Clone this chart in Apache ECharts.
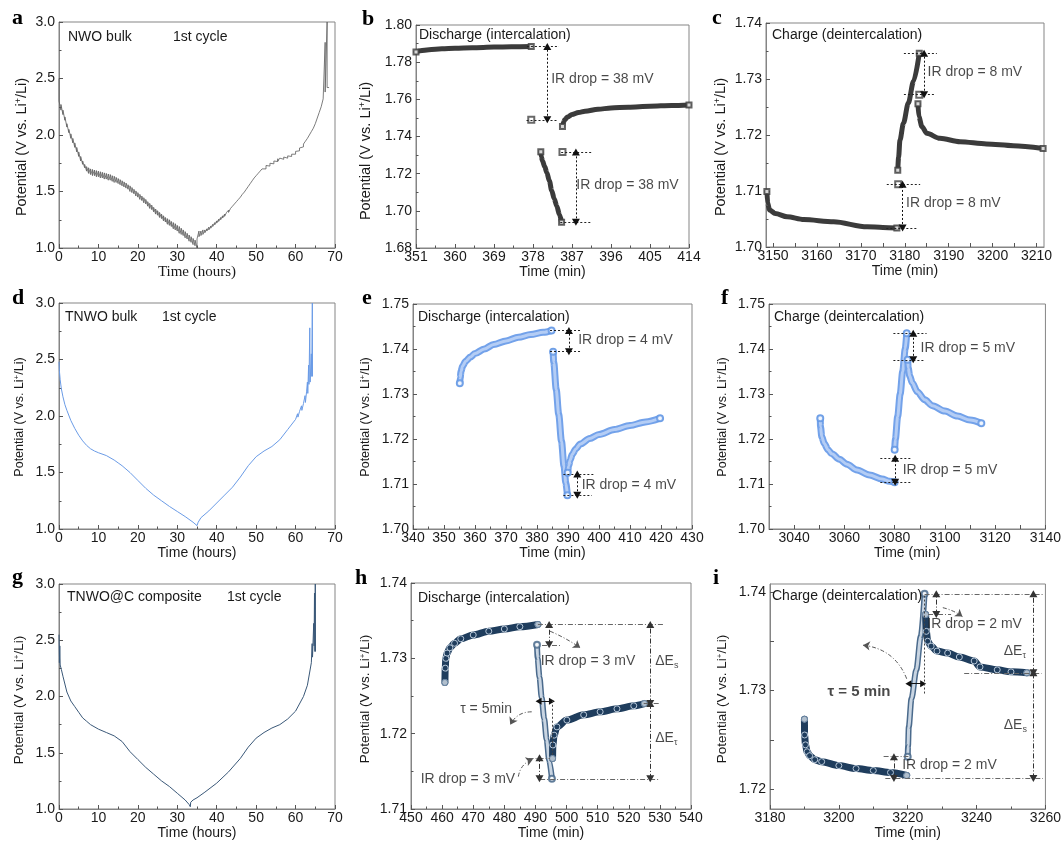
<!DOCTYPE html>
<html>
<head>
<meta charset="utf-8">
<script src="https://cdn.jsdelivr.net/npm/echarts@6/dist/echarts.min.js"></script>
<style>
html,body{margin:0;padding:0;background:#fff}
#chart{width:1064px;height:845px}
</style>
</head>
<body>
<div id="chart"></div>
<script>
// ---------- a: NWO bulk, 1st cycle (hours) : [time, relaxed potential, pulse-end potential] ----------
const aDischarge = [[0,2.50,2.30],[0.5,2.31,2.22],[1,2.27,2.18],[1.5,2.22,2.13],[2,2.16,2.07],[2.5,2.10,2.02],[3,2.05,1.97],[3.5,2.01,1.93],[4,1.97,1.89],[4.5,1.93,1.85],[5,1.89,1.81],[5.5,1.85,1.77],[6,1.81,1.74],[6.5,1.77,1.71],[7,1.74,1.68],[7.5,1.72,1.66],[8,1.71,1.65],[8.5,1.70,1.64],[9,1.695,1.64],[9.5,1.69,1.63],[10,1.685,1.63],[10.5,1.68,1.62],[11,1.675,1.62],[11.5,1.67,1.61],[12,1.665,1.61],[12.5,1.66,1.60],[13,1.655,1.60],[13.5,1.65,1.59],[14,1.64,1.58],[14.5,1.635,1.58],[15,1.625,1.57],[15.5,1.615,1.56],[16,1.605,1.55],[16.5,1.595,1.54],[17,1.585,1.53],[17.5,1.575,1.52],[18,1.56,1.50],[18.5,1.55,1.49],[19,1.535,1.48],[19.5,1.52,1.46],[20,1.505,1.45],[20.5,1.49,1.43],[21,1.475,1.42],[21.5,1.46,1.40],[22,1.445,1.39],[22.5,1.43,1.37],[23,1.41,1.35],[23.5,1.395,1.34],[24,1.38,1.32],[24.5,1.36,1.30],[25,1.345,1.29],[25.5,1.33,1.27],[26,1.315,1.26],[26.5,1.30,1.24],[27,1.285,1.23],[27.5,1.27,1.21],[28,1.26,1.20],[28.5,1.25,1.19],[29,1.235,1.17],[29.5,1.225,1.16],[30,1.215,1.15],[30.5,1.20,1.13],[31,1.19,1.12],[31.5,1.175,1.11],[32,1.16,1.09],[32.5,1.145,1.08],[33,1.13,1.06],[33.5,1.115,1.05],[34,1.10,1.03],[34.5,1.085,1.02],[35,1.07,1.00]];
const aCharge = [[35.5,1.08,1.15],[36,1.10,1.15],[36.5,1.11,1.16],[37,1.12,1.16],[37.5,1.135,1.17],[38,1.15,1.185],[38.5,1.16,1.195],[39,1.175,1.21],[39.5,1.19,1.225],[40,1.205,1.24],[40.5,1.22,1.255],[41,1.235,1.27],[41.5,1.25,1.285],[42,1.265,1.30],[42.5,1.28,1.315],[43,1.30,1.335],[43.5,1.315,1.35],[44,1.335,1.37],[44.5,1.355,1.39],[45,1.375,1.41],[45.5,1.395,1.43],[46,1.415,1.45],[46.5,1.44,1.475],[47,1.46,1.495],[47.5,1.485,1.52],[48,1.51,1.545],[48.5,1.535,1.57],[49,1.56,1.595],[49.5,1.585,1.62],[50,1.605,1.64],[50.5,1.63,1.66],[51,1.65,1.68],[51.5,1.67,1.70],[52,1.685,1.715],[52.5,1.70,1.73],[53,1.715,1.74],[53.5,1.725,1.75],[54,1.735,1.76],[54.5,1.745,1.77],[55,1.755,1.78],[55.5,1.765,1.79],[56,1.77,1.795],[56.5,1.78,1.80],[57,1.785,1.805],[57.5,1.79,1.81],[58,1.795,1.815],[58.5,1.80,1.82],[59,1.81,1.83],[59.5,1.82,1.84],[60,1.83,1.855],[60.5,1.845,1.87],[61,1.86,1.885],[61.5,1.875,1.90],[62,1.895,1.92],[62.5,1.915,1.945],[63,1.94,1.97],[63.5,1.965,2.00],[64,1.99,2.03],[64.5,2.02,2.06],[65,2.06,2.10],[65.5,2.10,2.15],[66,2.15,2.20],[66.5,2.20,2.25],[67,2.26,2.32],[67.5,2.32,2.82],[68,2.38,3.00],[68.5,2.42,2.42]];

// ---------- b: NWO bulk, discharge step (min) ----------
const bRest1 = [[351,1.7855],[352,1.7862],[354,1.7867],[357,1.7872],[360,1.7875],[364,1.7878],[369,1.7881],[373,1.7883],[377.6,1.7884]];
const bPulse = [[379.8,1.7318],[379.9,1.7292],[380.2,1.7268],[380.7,1.7238],[381.2,1.7205],[381.8,1.7160],[382.3,1.7110],[382.9,1.7065],[383.5,1.7025],[384.1,1.6980],[384.6,1.6938]];
const bRest2 = [[384.8,1.7454],[385.0,1.7475],[385.3,1.7490],[386,1.7505],[387,1.7518],[388.5,1.7529],[390,1.7536],[393,1.7547],[396,1.7553],[400,1.7558],[405,1.7563],[410,1.7567],[414,1.7570]];
const bSteps = [[377.6,1.7490],[384.8,1.7316]];
const bGuides = [[1.7884,376.6,384.0],[1.7490,376.5,383.5],[1.7316,384.5,391.6],[1.6938,384.3,391.6]];
const bArrows = [[381.3,1.7490,1.7884],[387.9,1.6938,1.7316]];
const bNotes = [[382.2,1.7710,'IR drop = 38 mV'],[388.0,1.7140,'IR drop = 38 mV']];

// ---------- c: NWO bulk, charge step (min) ----------
const cRest1 = [[3148.6,1.7099],[3148.8,1.7078],[3149.2,1.7066],[3150.5,1.7060],[3153.2,1.7054],[3157,1.7049],[3163.8,1.7045],[3171.4,1.7036],[3175,1.7035],[3178.2,1.7034]];
const cPulse = [[3178.4,1.7137],[3178.6,1.7161],[3178.9,1.7191],[3179.7,1.7221],[3180.8,1.7257],[3182.0,1.7296],[3183.3,1.7346]];
const cRest2 = [[3183.0,1.7256],[3183.2,1.7233],[3183.9,1.7215],[3185.0,1.7203],[3188.0,1.7194],[3192.6,1.7188],[3198.6,1.7184],[3204.7,1.7181],[3211.5,1.7176]];
const cSteps = [[3178.5,1.7112],[3183.3,1.7272]];
const cGuides = [[1.7034,3175.8,3182.9],[1.7112,3175.9,3183.5],[1.7346,3179.8,3187.3],[1.7272,3179.8,3186.9]];
const cArrows = [[3179.5,1.7034,1.7112],[3184.4,1.7272,1.7346]];
const cNotes = [[3180.3,1.7078,'IR drop = 8 mV'],[3185.2,1.7313,'IR drop = 8 mV']];
const cTickLabels = [3150,3160,3170,3180,3190,3200,3210];

// ---------- d: TNWO bulk, 1st cycle (hours) ----------
const dCurve = [[0,2.48],[0.1,2.40],[0.3,2.32],[0.6,2.24],[1,2.17],[1.5,2.10],[2,2.05],[3,1.96],[4,1.89],[5,1.83],[6,1.78],[7,1.74],[8,1.71],[9,1.69],[10,1.675],[12,1.65],[14,1.61],[15,1.585],[16,1.56],[18,1.50],[20,1.43],[22,1.36],[24,1.30],[26,1.25],[28,1.20],[30,1.155],[32,1.11],[34,1.06],[35,1.03],[35.2,1.02],[35.3,1.06],[36,1.10],[38,1.16],[40,1.23],[42,1.30],[44,1.37],[46,1.46],[48,1.56],[50,1.64],[52,1.69],[54,1.73],[56,1.79],[58,1.88],[60,1.97],[60.5,2.02],[60.6,1.99],[61,2.04],[61.5,2.09],[61.6,2.05],[62,2.11],[62.4,2.18],[62.5,2.12],[62.8,2.22],[63.0,2.30],[63.1,2.20],[63.3,2.45],[63.4,2.28],[63.6,2.78],[63.7,2.30],[64.0,2.55],[64.1,2.35],[64.25,3.0],[64.3,2.35]];

// ---------- e: TNWO bulk, discharge step (min) ----------
const eRest1 = [[355.1,1.7324],[355.2,1.7335],[355.5,1.7350],[356,1.7362],[357,1.7373],[358.5,1.7382],[360,1.7390],[363,1.7400],[366,1.7410],[370,1.7418],[374,1.7426],[378,1.7432],[382,1.7437],[384.7,1.7441]];
const ePulse = [[385.2,1.7394],[385.4,1.7370],[386.2,1.7310],[387.0,1.7255],[387.9,1.7195],[388.7,1.7140],[389.3,1.7102],[389.8,1.7075]];
const eRest2 = [[389.9,1.7125],[390.2,1.7140],[390.7,1.7153],[391.4,1.7166],[392.5,1.7178],[394,1.7189],[397,1.7201],[400,1.7210],[405,1.7221],[410,1.7230],[415,1.7238],[419.7,1.7246]];
const eGuides = [[1.7441,384.2,393.9],[1.7394,384.2,393.9],[1.7122,388.5,398.2],[1.7075,388.5,397.7]];
const eArrows = [[390.3,1.7394,1.7441],[393.0,1.7075,1.7122]];
const eNotes = [[393.3,1.7419,'IR drop = 4 mV'],[394.4,1.7098,'IR drop = 4 mV']];

// ---------- f: TNWO bulk, charge step (min) ----------
const fRest1 = [[3050.4,1.7246],[3050.5,1.7227],[3051,1.7205],[3052,1.7190],[3053.5,1.7176],[3055,1.7167],[3058,1.7155],[3061,1.7144],[3065,1.7131],[3070,1.7120],[3075,1.7111],[3078,1.7106],[3080,1.7104]];
const fPulse = [[3080.0,1.7176],[3080.3,1.7200],[3081.2,1.7250],[3082.2,1.7300],[3083.2,1.7350],[3084.2,1.7400],[3084.8,1.7435]];
const fRest2 = [[3085.2,1.7376],[3085.4,1.7358],[3086,1.7340],[3087,1.7325],[3089,1.7305],[3092,1.7287],[3095,1.7274],[3100,1.7262],[3105,1.7251],[3110,1.7242],[3114.5,1.7235]];
const fGuides = [[1.7104,3074.3,3086.8],[1.7157,3074.3,3086.8],[1.7435,3079.5,3092.7],[1.7376,3079.5,3092.0]];
const fArrows = [[3080.2,1.7104,1.7157],[3087.4,1.7376,1.7435]];
const fNotes = [[3083.2,1.7131,'IR drop = 5 mV'],[3090.3,1.7401,'IR drop = 5 mV']];
const fTickLabels = [3040,3060,3080,3100,3120,3140];

// ---------- g: TNWO@C composite, 1st cycle (hours) ----------
const gCurve = [[0,2.55],[0.1,2.30],[0.2,2.45],[0.3,2.28],[0.6,2.24],[1,2.18],[2,2.04],[3,1.96],[4,1.91],[5,1.86],[6,1.81],[7,1.78],[8,1.75],[10,1.71],[12,1.68],[14,1.65],[16,1.60],[18,1.51],[20,1.44],[22,1.37],[24,1.31],[26,1.25],[28,1.20],[30,1.14],[32,1.08],[33,1.04],[33.3,1.02],[33.4,1.06],[34,1.08],[35,1.10],[37,1.15],[40,1.23],[43,1.33],[46,1.45],[48,1.55],[50,1.63],[52,1.68],[54,1.72],[56,1.75],[58,1.80],[60,1.87],[62,2.00],[63,2.10],[64,2.30],[64.2,2.47],[64.3,2.35],[64.6,2.65],[64.7,2.45],[64.8,2.92],[64.9,2.40],[65.0,3.0],[65.05,2.40]];

// ---------- h: TNWO@C composite, discharge step (min) ----------
const hRest1 = [[460.9,1.7268],[461.0,1.7287],[461.2,1.7300],[461.6,1.7307],[462.5,1.7314],[464,1.7320],[466,1.7326],[470,1.7331],[475,1.7336],[480,1.7339],[485,1.7342],[490.8,1.7345]];
const hPulse = [[490.5,1.7318],[490.7,1.7300],[491.3,1.7275],[492.0,1.7248],[492.8,1.7220],[493.6,1.7192],[494.4,1.7165],[495.3,1.7140]];
const hRest2 = [[495.5,1.7167],[495.6,1.7185],[496.0,1.7198],[496.9,1.7209],[500.1,1.7218],[505.5,1.7225],[510.8,1.7229],[516.2,1.7233],[521.6,1.7237],[525.0,1.7240]];
const hGuides = [[1.7345,490.8,531.2],[1.7318,492.1,498.5],[1.7168,487.8,494.7],[1.7140,491.5,529.6],[1.7240,524.8,530.2]];
const hArrows = [[494.4,1.7318,1.7345],[491.3,1.7140,1.7168],[526.9,1.7240,1.7345],[526.9,1.7140,1.7240]];
const hSpans = [[1.7243,491.0,495.3]];
const hDrops = [[495.3,1.7172,1.7245]];
const hCurves = [[494.7,1.7336,504.4,1.7314,0.05],[488.8,1.7229,481.9,1.7212,-0.3],[484.5,1.7143,489.2,1.7166,0.3]];
const hNotes = [[491.7,1.7296,'IR drop = 3 mV'],[453.1,1.7140,'IR drop = 3 mV'],[465.8,1.7233,'τ = 5min'],[528.5,1.7296,'ΔE{sub|s}'],[528.5,1.7194,'ΔE{sub|τ}']];

// ---------- i: TNWO@C composite, charge step (min) ----------
const iRest1 = [[3190.0,1.7271],[3190.05,1.7255],[3190.3,1.7245],[3190.8,1.7238],[3191.5,1.7234],[3193,1.7230],[3195,1.7228],[3200,1.7224],[3205,1.7221],[3210,1.7219],[3215,1.7217],[3219.7,1.7214]];
const iPulse = [[3220.0,1.7233],[3220.1,1.7244],[3220.3,1.7263],[3221.1,1.7292],[3222.5,1.7321],[3223.8,1.7355],[3224.9,1.7398]];
const iRest2 = [[3225.2,1.7377],[3225.4,1.7360],[3225.8,1.7350],[3226.8,1.7345],[3228.5,1.7340],[3231.6,1.7338],[3235,1.7334],[3239.3,1.7330],[3241,1.7324],[3246,1.7321],[3250,1.7319],[3254.6,1.7318]];
const iGuides = [[1.7398,3224.9,3259.3],[1.7377,3225.9,3232.6],[1.7318,3236.4,3258.9],[1.7233,3213.0,3220.2],[1.7211,3213.5,3259.3]];
const iArrows = [[3228.3,1.7377,1.7398],[3216.0,1.7211,1.7233],[3256.5,1.7318,1.7398],[3256.5,1.7211,1.7318]];
const iSpans = [[1.7307,3220.2,3224.5]];
const iDrops = [[3224.7,1.7297,1.7396]];
const iCurves = [[3230.2,1.7384,3235.9,1.7375,0.1],[3219.7,1.7312,3207.0,1.7346,-0.3]];
const iNotes = [[3225.7,1.7367,'IR drop = 2 mV'],[3218.4,1.7224,'IR drop = 2 mV'],[3196.7,1.7299,'{bd|τ = 5 min}'],[3247.9,1.7340,'ΔE{sub|τ}'],[3247.9,1.7265,'ΔE{sub|s}']];
const iTickLabels = [1.72,1.73,1.74];

// ---------- styling ----------
const SANS = '"Liberation Sans", Arial, sans-serif';
const SERIF = '"Liberation Serif", "Times New Roman", serif';
const INK = '#1a1a1a';
const FRAME = '#858585';
const TICK = '#555';

const grids = [
  {left:59, top:22, width:276, height:226},
  {left:416, top:25, width:273, height:223},
  {left:766, top:23, width:278, height:224},
  {left:59, top:303, width:276, height:226},
  {left:413, top:304, width:279, height:225},
  {left:769, top:304, width:279, height:225},
  {left:59, top:584, width:276, height:225},
  {left:411, top:583, width:280, height:226},
  {left:770, top:584, width:279, height:225}
].map(g => Object.assign({show:true, borderColor:FRAME, borderWidth:1, backgroundColor:'transparent'}, g));

function axis(gi, c) {
  const custom = !!c.labels;
  const ax = {
    type:'value', gridIndex:gi, min:c.min, max:c.max,
    axisLine:{show:true, onZero:false, lineStyle:{color:FRAME, width:1}},
    axisTick:{show:true, inside:true, length:4, lineStyle:{color:TICK}},
    minorTick:{show:!custom, splitNumber:2, length:2.5, lineStyle:{color:TICK}},
    splitLine:{show:false}, minorSplitLine:{show:false},
    axisLabel:{color:INK, fontFamily:SANS, fontSize:14, margin:c.dp ? 4 : 2,
      formatter: v => c.dp ? (+v).toFixed(c.dp) : String(Math.round(v))}
  };
  if (c.name) {
    ax.name = c.name; ax.nameLocation = 'middle'; ax.nameGap = c.gap;
    ax.nameTextStyle = {color:INK, fontFamily:c.serif ? SERIF : SANS, fontSize:c.serif ? 15 : 14};
  }
  if (c.interval) ax.interval = c.interval;
  if (custom) { ax.axisLabel.customValues = c.labels; ax.axisTick.customValues = c.ticks; }
  return ax;
}

const tmin = 'Time (min)', thr = 'Time (hours)';
const xg = 8;
const xAxes = [
  axis(0, {min:0, max:70, interval:10, name:thr, gap:xg, serif:true}),
  axis(1, {min:351, max:414, interval:9, name:tmin, gap:xg}),
  axis(2, {min:3148.4, max:3211.7, labels:cTickLabels, ticks:[3150,3155,3160,3165,3170,3175,3180,3185,3190,3195,3200,3205,3210], name:tmin, gap:xg}),
  axis(3, {min:0, max:70, interval:10, name:thr, gap:xg}),
  axis(4, {min:340, max:430, interval:10, name:tmin, gap:xg}),
  axis(5, {min:3030, max:3140, labels:fTickLabels, ticks:[3040,3050,3060,3070,3080,3090,3100,3110,3120,3130,3140], name:tmin, gap:xg}),
  axis(6, {min:0, max:70, interval:10, name:thr, gap:xg}),
  axis(7, {min:450, max:540, interval:10, name:tmin, gap:xg}),
  axis(8, {min:3180, max:3260, interval:20, name:tmin, gap:xg})
];
const yAxes = [
  axis(0, {min:1.0, max:3.0, interval:0.5, dp:1}),
  axis(1, {min:1.68, max:1.80, interval:0.02, dp:2}),
  axis(2, {min:1.70, max:1.74, interval:0.01, dp:2}),
  axis(3, {min:1.0, max:3.0, interval:0.5, dp:1}),
  axis(4, {min:1.70, max:1.75, interval:0.01, dp:2}),
  axis(5, {min:1.70, max:1.75, interval:0.01, dp:2}),
  axis(6, {min:1.0, max:3.0, interval:0.5, dp:1}),
  axis(7, {min:1.71, max:1.74, interval:0.01, dp:2}),
  axis(8, {min:1.718, max:1.7408, labels:iTickLabels, ticks:[1.72,1.725,1.73,1.735,1.74], dp:2})
];

// GITT comb: relaxed level, vertical pulse excursion, then next relaxed level
function gittTrace(rows) {
  const pts = [[rows[0][0], rows[0][1]]];
  rows.forEach((r, k) => {
    pts.push([r[0], r[2]]);
    const nx = rows[k + 1];
    if (nx) pts.push([r[0], nx[1]], [nx[0], nx[1]]);
  });
  return pts;
}

function trace(gi, data, color, width) {
  return {type:'line', xAxisIndex:gi, yAxisIndex:gi, data, showSymbol:false, silent:true,
    lineStyle:{color, width}, z:2};
}
// a densely sampled segment: thick outer stroke, optional lighter core, markers at its ends
function segment(gi, data, st) {
  const base = {type:'line', xAxisIndex:gi, yAxisIndex:gi, data, silent:true,
    smooth:0.3, smoothMonotone:'x', showSymbol:!!st.every, showAllSymbol:true,
    symbol:st.every ? st.symbol : 'none', symbolSize:st.size, itemStyle:st.item};
  const out = [Object.assign({}, base, {z:3, lineStyle:{color:st.outer, width:st.width, cap:'round', join:'round'}})];
  if (st.core) out.push(Object.assign({}, base, {z:3, showSymbol:false, symbol:'none',
    lineStyle:{color:st.core, width:st.coreWidth, cap:'round', join:'round'}}));
  out.push({type:'scatter', xAxisIndex:gi, yAxisIndex:gi, silent:true, z:4,
    data:[data[0], data[data.length - 1]], symbol:st.symbol, symbolSize:st.size, itemStyle:st.endItem || st.item});
  return out;
}
function dots(gi, data, st) {
  return {type:'scatter', xAxisIndex:gi, yAxisIndex:gi, data, silent:true, z:4,
    symbol:st.symbol, symbolSize:st.size, itemStyle:st.item};
}

const arrowLine = {type:[2,2], color:'#111', width:1};
function notes(gi, spec) {
  const guide = spec.guideStyle;
  const lines = [];
  (spec.guides || []).forEach(([y, x1, x2]) =>
    lines.push([{coord:[x1, y], symbol:'none', lineStyle:guide}, {coord:[x2, y], symbol:'none'}]));
  (spec.arrows || []).forEach(([x, y1, y2]) =>
    lines.push([{coord:[x, y1], symbol:'triangle', symbolSize:[8, 7], lineStyle:spec.arrowStyle || arrowLine},
                {coord:[x, y2], symbol:'triangle', symbolSize:[8, 7]}]));
  (spec.spans || []).forEach(([y, x1, x2]) =>
    lines.push([{coord:[x1, y], symbol:'triangle', symbolSize:[7, 6], lineStyle:{type:'solid', color:'#111', width:1}},
                {coord:[x2, y], symbol:'triangle', symbolSize:[7, 6]}]));
  (spec.drops || []).forEach(([x, y1, y2]) =>
    lines.push([{coord:[x, y1], symbol:'none', lineStyle:{type:[2,2], color:'#444', width:1}}, {coord:[x, y2], symbol:'none'}]));
  const out = [{
    type:'scatter', xAxisIndex:gi, yAxisIndex:gi, symbolSize:0, silent:true, z:6,
    data:(spec.notes || []).map(([x, y, t]) => ({value:[x, y], label:{formatter:t}})),
    label:{show:true, position:'right', distance:0, color:INK, fontFamily:SANS, fontSize:14,
      rich:{
        sub:{fontSize:9, fontFamily:SANS, color:INK, verticalAlign:'bottom', padding:[8, 0, 0, 0]},
        bd:{fontSize:15, fontFamily:SANS, fontWeight:'bold', color:INK}
      }},
    markLine:{silent:true, animation:false, label:{show:false}, emphasis:{disabled:true}, data:lines}
  }];
  // curved pointer arrows drawn as a lines series, one per curve so each keeps its own bend
  (spec.curves || []).forEach(([x1, y1, x2, y2, cv]) => out.push({
    type:'lines', coordinateSystem:'cartesian2d', xAxisIndex:gi, yAxisIndex:gi, silent:true, z:6,
    symbol:['none', 'arrow'], symbolSize:7,
    lineStyle:{type:[4,2,1,2], color:'#555', width:1, curveness:cv, opacity:1},
    data:[{coords:[[x1, y1], [x2, y2]]}]
  }));
  return out;
}

const dotted = {type:[2,2], color:'#222', width:1};
const dashDot = {type:[5,2,1,2], color:'#666', width:1};

const gray = {symbol:'emptyRect', size:5, outer:'#3b3b3b', width:5, item:{color:'#3b3b3b', borderWidth:1}};
const grayStep = {symbol:'emptyRect', size:6, item:{color:'#444', borderWidth:1}};
const sky = {symbol:'emptyCircle', size:6, outer:'#73a2ea', width:7, core:'#b4cdf5', coreWidth:3,
  item:{color:'#5f95e4', borderWidth:1}};
const navy = {symbol:'circle', size:6, every:true, outer:'#1f3d5d', width:7,
  item:{color:'#1f3d5d', borderColor:'#b9c9da', borderWidth:1}, endItem:{color:'#d6e0ea', borderColor:'#47688a', borderWidth:1}};
const navyPulse = {symbol:'emptyCircle', size:6, outer:'#4a6a8c', width:6, core:'#c9d5e2', coreWidth:3,
  item:{color:'#47688a', borderWidth:1}};

const series = [
  trace(0, gittTrace(aDischarge.concat(aCharge)), '#5c5c5c', 0.8),

  ...segment(1, bRest1, gray), ...segment(1, bPulse, gray), ...segment(1, bRest2, gray), dots(1, bSteps, grayStep),
  ...notes(1, {guides:bGuides, arrows:bArrows, notes:bNotes, guideStyle:dotted}),

  ...segment(2, cRest1, gray), ...segment(2, cPulse, gray), ...segment(2, cRest2, gray), dots(2, cSteps, grayStep),
  ...notes(2, {guides:cGuides, arrows:cArrows, notes:cNotes, guideStyle:dotted}),

  trace(3, dCurve, '#6a9be6', 1),

  ...segment(4, eRest1, sky), ...segment(4, ePulse, sky), ...segment(4, eRest2, sky),
  ...notes(4, {guides:eGuides, arrows:eArrows, notes:eNotes, guideStyle:dotted}),

  ...segment(5, fRest1, sky), ...segment(5, fPulse, sky), ...segment(5, fRest2, sky),
  ...notes(5, {guides:fGuides, arrows:fArrows, notes:fNotes, guideStyle:dotted}),

  trace(6, gCurve, '#3a5878', 1),

  ...segment(7, hRest1, navy), ...segment(7, hPulse, navyPulse), ...segment(7, hRest2, navy),
  ...notes(7, {guides:hGuides, arrows:hArrows, spans:hSpans, drops:hDrops, curves:hCurves, notes:hNotes,
            guideStyle:dashDot, arrowStyle:{type:[5,2,1,2], color:'#333', width:1}}),

  ...segment(8, iRest1, navy), ...segment(8, iPulse, navyPulse), ...segment(8, iRest2, navy),
  ...notes(8, {guides:iGuides, arrows:iArrows, spans:iSpans, drops:iDrops, curves:iCurves, notes:iNotes,
            guideStyle:dashDot, arrowStyle:{type:[5,2,1,2], color:'#333', width:1}})
];

// panel letters, in-plot captions and rotated potential titles
const letterFont = 'bold 22px "Liberation Serif", "Times New Roman", serif';
const capFont = '14px "Liberation Sans", Arial, sans-serif';
const letters = [['a',12,18],['b',362,19],['c',712,18],['d',12,298],['e',362,298],['f',721,298],['g',12,577],['h',355,578],['i',713,578]];
const captions = [
  ['NWO bulk',68,37],['1st cycle',173,37],
  ['Discharge (intercalation)',419,35],['Charge (deintercalation)',772,35],
  ['TNWO bulk',65,317],['1st cycle',162,317],
  ['Discharge (intercalation)',418,317],['Charge (deintercalation)',774,317],
  ['TNWO@C composite',67,597],['1st cycle',227,597],
  ['Discharge (intercalation)',418,598],['Charge (deintercalation)',772,596]
];
const yTitle = 'Potential (V vs. Li{sup|+}/Li)';
const yTitles = [[22,147,14.5],[365.5,151,14.5],[720.5,147,14.5],[19.5,417,12.5],[365.5,417,12.5],[722.5,417,12.5],[19.5,700,13.5],[365.5,699,13.5],[722.5,699,13.5]];

const graphic = letters.map(([t, x, y]) => ({type:'text', x, y, silent:true,
    style:{text:t, font:letterFont, fill:'#000', verticalAlign:'middle'}}))
  .concat(captions.map(([t, x, y]) => ({type:'text', x, y, silent:true, z:10,
    style:{text:t, font:capFont, fill:INK, verticalAlign:'middle'}})))
  .concat(yTitles.map(([x, y, fs]) => ({type:'text', x, y, rotation:Math.PI / 2, silent:true,
    style:{text:yTitle, fontFamily:SANS, fontSize:fs, fill:INK, align:'center', verticalAlign:'middle',
      rich:{sup:{fontFamily:SANS, fontSize:Math.round(fs * 0.62), fill:INK, verticalAlign:'top'}}}})));

const chart = echarts.init(document.getElementById('chart'), null, {renderer:'canvas'});
chart.setOption({
  animation:false,
  backgroundColor:'#ffffff',
  grid:grids, xAxis:xAxes, yAxis:yAxes,
  series, graphic
});
</script>
</body>
</html>
